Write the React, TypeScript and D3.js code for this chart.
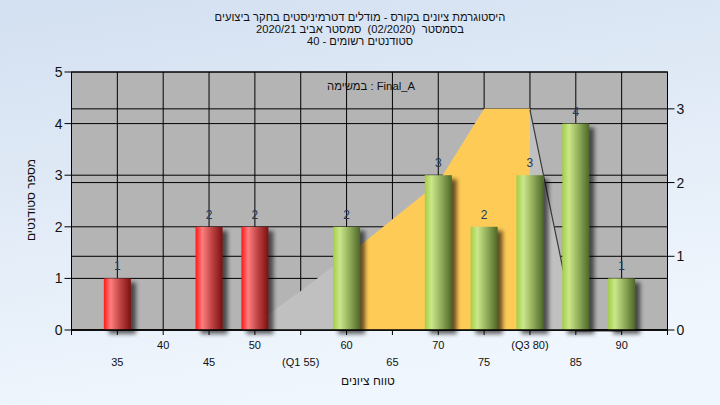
import React from "react";
import * as d3 from "d3";

const categories = [35, 40, 45, 50, 55, 60, 65, 70, 75, 80, 85, 90];
const counts = [1, 0, 2, 2, 0, 2, 0, 3, 2, 3, 4, 1];
const tickLabels = ["35", "40", "45", "50", "(Q1 55)", "60", "65", "70", "75", "(Q3 80)", "85", "90"];
const leftTicks = [0, 1, 2, 3, 4, 5];
const rightTicks = [0, 1, 2, 3];
// background spread shape (secondary axis)
const spreadX = [50, 55, 60, 65, 70, 75, 80, 85];
const spreadValues = [0.08, 0.53, 1.0, 1.5, 2.0, 3.0, 3.0, 0];
// inter-quartile highlighted part
const iqrX = [60, 65, 70, 75, 80];
const iqrValues = [1.0, 1.5, 2.0, 3.0, 3.0];
// descending edge line
const edgeX = [80, 85, 90];
const edgeValues = [3.0, 0, 0];

const titleLines = [
  "היסטוגרמת ציונים בקורס - מודלים דטרמיניסטים בחקר ביצועים",
  "בסמסטר  (02/2020)  סמסטר אביב 2020/21",
  "סטודנטים רשומים - 40",
];
const legendText = "במשימה : Final_A";
const xTitle = "טווח ציונים";
const yTitle = "מספר סטודנטים";
const q1 = 55;

const W = 720;
const H = 405;
const L = 71.5;
const R = 667.5;
const T = 72;
const B = 330;
const FONT = "'Liberation Sans', Arial, 'DejaVu Sans', sans-serif";

export default function App() {
  const x = d3.scaleLinear().domain([30, 95]).range([L, R]);
  const yL = d3.scaleLinear().domain([0, 5]).range([B, T]);
  const yR = d3.scaleLinear().domain([0, 3.5]).range([B, T]);
  const barW = 27;

  const area = d3
    .area<[number, number]>()
    .x((d) => x(d[0]))
    .y0(yR(0))
    .y1((d) => yR(d[1]));
  const line = d3
    .line<[number, number]>()
    .x((d) => x(d[0]))
    .y((d) => yR(d[1]));

  const spreadPts = spreadX.map((v, i) => [v, spreadValues[i]] as [number, number]);
  const iqrPts = iqrX.map((v, i) => [v, iqrValues[i]] as [number, number]);
  const edgePts = edgeX.map((v, i) => [v, edgeValues[i]] as [number, number]);

  return (
    <svg
      width={W}
      height={H}
      style={{ position: "absolute", left: 0, top: 0 }}
      fontFamily={FONT}
    >
      <defs>
        <linearGradient id="bg" x1="0" y1="0" x2="0.3" y2="1">
          <stop offset="0%" stopColor="#D3E0F1" />
          <stop offset="100%" stopColor="#F0F6FD" />
        </linearGradient>
        <linearGradient id="red" x1="0" y1="0" x2="1" y2="0">
          <stop offset="0%" stopColor="#FF1818" />
          <stop offset="25%" stopColor="#FF7E7E" />
          <stop offset="60%" stopColor="#C04444" />
          <stop offset="100%" stopColor="#7C1010" />
        </linearGradient>
        <linearGradient id="green" x1="0" y1="0" x2="1" y2="0">
          <stop offset="0%" stopColor="#A2CE42" />
          <stop offset="25%" stopColor="#CBE78C" />
          <stop offset="60%" stopColor="#93AE5A" />
          <stop offset="100%" stopColor="#4D6828" />
        </linearGradient>
        <filter id="blur" x="-50%" y="-50%" width="200%" height="200%">
          <feGaussianBlur stdDeviation="2" />
        </filter>
      </defs>
      <rect x={0} y={0} width={W} height={H} fill="url(#bg)" />

      {/* title */}
      {titleLines.map((t, i) => (
        <text
          key={i}
          x={360}
          y={20.5 + i * 12}
          fontSize={11.2}
          textAnchor="middle"
          direction="rtl"
          fill="#111"
          style={{ whiteSpace: "pre" }}
        >
          {t}
        </text>
      ))}

      {/* plot background */}
      <rect x={L} y={T} width={R - L} height={B - T} fill="#B4B4B4" />

      {/* grid */}
      {leftTicks.map((t) => (
        <line key={"gl" + t} x1={L} x2={R} y1={yL(t)} y2={yL(t)} stroke="#000" strokeWidth={1} />
      ))}
      {rightTicks.map((t) => (
        <line key={"gr" + t} x1={L} x2={R} y1={yR(t)} y2={yR(t)} stroke="#000" strokeWidth={1} />
      ))}
      {categories.map((c) => (
        <line key={"gv" + c} x1={x(c)} x2={x(c)} y1={T} y2={B} stroke="#000" strokeWidth={1} />
      ))}

      {/* spread area */}
      <path d={area(spreadPts) || ""} fill="#C0C0C0" />
      <path d={area(iqrPts) || ""} fill="#FFCB57" />
      <path d={line(edgePts) || ""} fill="none" stroke="#3A3A3A" strokeWidth={1.2} transform="translate(0,1)" />

      {/* legend text */}
      <text x={327} y={90} fontSize={11.3} direction="ltr" fill="#111">
        {legendText}
      </text>

      {/* bars */}
      {categories.map((c, i) =>
        counts[i] > 0 ? (
          <g key={"b" + c}>
            <rect
              x={x(c) - barW / 2 + 5}
              y={yL(counts[i]) + 4}
              width={barW}
              height={B - yL(counts[i])}
              fill="#000"
              opacity={0.6}
              filter="url(#blur)"
            />
            <rect
              x={x(c) - barW / 2}
              y={yL(counts[i])}
              width={barW}
              height={B - yL(counts[i])}
              fill={c < q1 ? "url(#red)" : "url(#green)"}
            />
            <text
              x={x(c)}
              y={yL(counts[i]) - 8}
              fontSize={12}
              textAnchor="middle"
              fill="#22385C"
            >
              {counts[i]}
            </text>
          </g>
        ) : null
      )}

      {/* frame */}
      <rect x={L} y={T} width={R - L} height={B - T} fill="none" stroke="#000" strokeWidth={1} />

      {/* left axis */}
      <line x1={L} x2={L} y1={T} y2={B + 5} stroke="#000" />
      {leftTicks.map((t) => (
        <g key={"lt" + t}>
          <line x1={L - 7} x2={L} y1={yL(t)} y2={yL(t)} stroke="#000" />
          <text x={L - 9} y={yL(t) + 5} fontSize={14} textAnchor="end" fill="#111">
            {t}
          </text>
        </g>
      ))}
      {/* right axis */}
      <line x1={R} x2={R} y1={T} y2={B + 5} stroke="#000" />
      {rightTicks.map((t) => (
        <g key={"rt" + t}>
          <line x1={R} x2={R + 7} y1={yR(t)} y2={yR(t)} stroke="#000" />
          <text x={R + 9} y={yR(t) + 5} fontSize={14} textAnchor="start" fill="#111">
            {t}
          </text>
        </g>
      ))}
      {/* x axis */}
      <line x1={L} x2={R} y1={B} y2={B} stroke="#000" />
      {categories.map((c, i) => (
        <g key={"xt" + c}>
          <line x1={x(c)} x2={x(c)} y1={B} y2={B + 5} stroke="#000" />
          <text
            x={x(c)}
            y={i % 2 === 1 ? 349 : 366}
            fontSize={11}
            textAnchor="middle"
            fill="#111"
          >
            {tickLabels[i]}
          </text>
        </g>
      ))}

      <text x={368} y={385} fontSize={12} textAnchor="middle" direction="rtl" fill="#111">
        {xTitle}
      </text>
      <text
        transform="translate(35,200) rotate(-90)"
        fontSize={12}
        textAnchor="middle"
        direction="rtl"
        fill="#111"
      >
        {yTitle}
      </text>
    </svg>
  );
}
